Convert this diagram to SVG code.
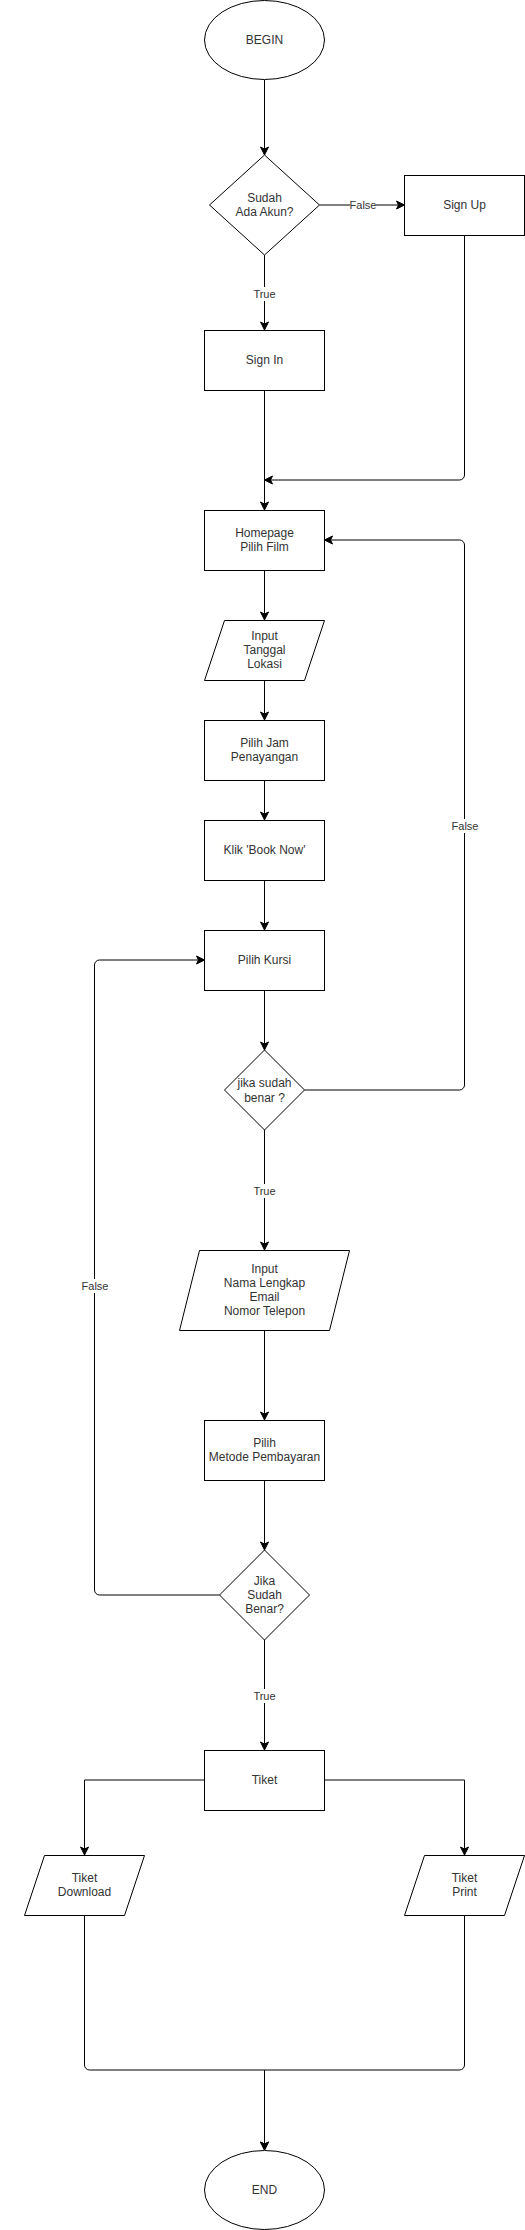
<svg xmlns="http://www.w3.org/2000/svg" width="525" height="2230" viewBox="0 0 525 2230">
<style>
.s{fill:#ffffff;stroke:#000000;stroke-width:1}
.t{font-family:"Liberation Sans",Arial,sans-serif;font-size:12px;fill:#333333;text-anchor:middle}
.l{font-family:"Liberation Sans",Arial,sans-serif;font-size:11px;fill:#333333;text-anchor:middle}
.e{fill:none;stroke:#000000;stroke-width:1}
.lb{fill:#ffffff;stroke:none}
</style>
<defs>
<marker id="a" markerUnits="userSpaceOnUse" markerWidth="9" markerHeight="9" refX="8" refY="4" orient="auto" overflow="visible">
<path d="M0,0 L8,4 L0,8 L2,4 Z" fill="#000000" stroke="#000000" stroke-width="1"/>
</marker>
</defs>
<rect width="525" height="2230" fill="#ffffff"/>
<g id="connectors">
<path class="e" d="M264.5,80 V155" marker-end="url(#a)"/>
<path class="e" d="M319.5,205 H404.5" marker-end="url(#a)"/>
<path class="e" d="M264.5,255 V330" marker-end="url(#a)"/>
<path class="e" d="M264.5,390 V510" marker-end="url(#a)"/>
<path class="e" d="M464.5,235 V475 A5,5 0 0 1 459.5,480 H264.5" marker-end="url(#a)"/>
<path class="e" d="M264.5,570 V620" marker-end="url(#a)"/>
<path class="e" d="M264.5,680 V720" marker-end="url(#a)"/>
<path class="e" d="M264.5,780 V820" marker-end="url(#a)"/>
<path class="e" d="M264.5,880 V930" marker-end="url(#a)"/>
<path class="e" d="M264.5,990 V1050" marker-end="url(#a)"/>
<path class="e" d="M304.5,1090 H459.5 A5,5 0 0 0 464.5,1085 V545 A5,5 0 0 0 459.5,540 H324.5" marker-end="url(#a)"/>
<path class="e" d="M264.5,1130 V1250" marker-end="url(#a)"/>
<path class="e" d="M264.5,1330 V1420" marker-end="url(#a)"/>
<path class="e" d="M264.5,1480 V1550" marker-end="url(#a)"/>
<path class="e" d="M219.5,1595 H99.5 A5,5 0 0 1 94.5,1590 V965 A5,5 0 0 1 99.5,960 H204.5" marker-end="url(#a)"/>
<path class="e" d="M264.5,1640 V1750" marker-end="url(#a)"/>
<path class="e" d="M204.5,1780 H84.5 V1855" marker-end="url(#a)"/>
<path class="e" d="M324.5,1780 H464.5 V1855" marker-end="url(#a)"/>
<path class="e" d="M84.5,1915 V2065 A5,5 0 0 0 89.5,2070 H264.5 V2150" marker-end="url(#a)"/>
<path class="e" d="M464.5,1915 V2065 A5,5 0 0 1 459.5,2070 H264.5 V2150" marker-end="url(#a)"/>
<rect class="lb" x="350" y="198" width="26" height="14"/>
<text class="l" x="363" y="209">False</text>
<rect class="lb" x="253" y="287" width="23" height="14"/>
<text class="l" x="264.5" y="298">True</text>
<rect class="lb" x="452" y="819" width="26" height="14"/>
<text class="l" x="465" y="830">False</text>
<rect class="lb" x="253" y="1184" width="23" height="14"/>
<text class="l" x="264.5" y="1195">True</text>
<rect class="lb" x="82" y="1279" width="26" height="14"/>
<text class="l" x="95" y="1290">False</text>
<rect class="lb" x="253" y="1689" width="23" height="14"/>
<text class="l" x="264.5" y="1700">True</text>
</g>
<g id="begin"><ellipse class="s" cx="264.5" cy="40" rx="60" ry="39.5"/><text class="t" x="264.5" y="44">BEGIN</text></g>
<g id="sudah-ada-akun"><polygon class="s" points="264.5,155 319.5,205 264.5,255 209.5,205"/><text class="t" x="264.5" y="202">Sudah</text><text class="t" x="264.5" y="216">Ada Akun?</text></g>
<g id="sign-up"><rect class="s" x="404.5" y="175.5" width="120" height="60"/><text class="t" x="464.5" y="209">Sign Up</text></g>
<g id="sign-in"><rect class="s" x="204.5" y="330.5" width="120" height="60"/><text class="t" x="264.5" y="364">Sign In</text></g>
<g id="homepage"><rect class="s" x="204.5" y="510.5" width="120" height="60"/><text class="t" x="264.5" y="537">Homepage</text><text class="t" x="264.5" y="551">Pilih Film</text></g>
<g id="input-tanggal"><polygon class="s" points="224.5,620.5 324.5,620.5 304.5,680.5 204.5,680.5"/><text class="t" x="264.5" y="640">Input</text><text class="t" x="264.5" y="654">Tanggal</text><text class="t" x="264.5" y="668">Lokasi</text></g>
<g id="pilih-jam"><rect class="s" x="204.5" y="720.5" width="120" height="60"/><text class="t" x="264.5" y="747">Pilih Jam</text><text class="t" x="264.5" y="761">Penayangan</text></g>
<g id="klik-book-now"><rect class="s" x="204.5" y="820.5" width="120" height="60"/><text class="t" x="264.5" y="854">Klik 'Book Now'</text></g>
<g id="pilih-kursi"><rect class="s" x="204.5" y="930.5" width="120" height="60"/><text class="t" x="264.5" y="964">Pilih Kursi</text></g>
<g id="jika-sudah-benar-1"><polygon class="s" points="264.5,1050 304.5,1090 264.5,1130 224.5,1090"/><text class="t" x="264.5" y="1087">jika sudah</text><text class="t" x="264.5" y="1102">benar ?</text></g>
<g id="input-data"><polygon class="s" points="199.5,1250.5 349.5,1250.5 329.5,1330.5 179.5,1330.5"/><text class="t" x="264.5" y="1273">Input</text><text class="t" x="264.5" y="1287">Nama Lengkap</text><text class="t" x="264.5" y="1301">Email</text><text class="t" x="264.5" y="1315">Nomor Telepon</text></g>
<g id="pilih-metode"><rect class="s" x="204.5" y="1420.5" width="120" height="60"/><text class="t" x="264.5" y="1447">Pilih</text><text class="t" x="264.5" y="1461">Metode Pembayaran</text></g>
<g id="jika-sudah-benar-2"><polygon class="s" points="264.5,1550 309.5,1595 264.5,1640 219.5,1595"/><text class="t" x="264.5" y="1585">Jika</text><text class="t" x="264.5" y="1599">Sudah</text><text class="t" x="264.5" y="1613">Benar?</text></g>
<g id="tiket"><rect class="s" x="204.5" y="1750.5" width="120" height="60"/><text class="t" x="264.5" y="1784">Tiket</text></g>
<g id="tiket-download"><polygon class="s" points="44.5,1855.5 144.5,1855.5 124.5,1915.5 24.5,1915.5"/><text class="t" x="84.5" y="1882">Tiket</text><text class="t" x="84.5" y="1896">Download</text></g>
<g id="tiket-print"><polygon class="s" points="424.5,1855.5 524.5,1855.5 504.5,1915.5 404.5,1915.5"/><text class="t" x="464.5" y="1882">Tiket</text><text class="t" x="464.5" y="1896">Print</text></g>
<g id="end"><ellipse class="s" cx="264.5" cy="2190" rx="60" ry="39.5"/><text class="t" x="264.5" y="2194">END</text></g>
</svg>
